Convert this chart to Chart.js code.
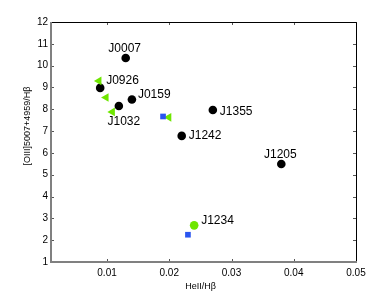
<!DOCTYPE html>
<html>
<head>
<meta charset="utf-8">
<script src="https://cdn.jsdelivr.net/npm/chart.js@4.4.1/dist/chart.umd.min.js"></script>
<style>
html,body{margin:0;padding:0;background:#fff;}
#wrap{width:392px;height:296px;position:relative;}
</style>
</head>
<body>
<div id="wrap"><canvas id="c" width="392" height="296"></canvas></div>
<script>
// ---- data ----
const blackNames = ['J0007','J0926','J1032','J0159','J1242','J1355','J1205'];
const blackX = [0.013, 0.0089, 0.0119, 0.014, 0.022, 0.027, 0.038];
const blackY = [10.35, 8.98, 8.15, 8.45, 6.78, 7.97, 5.49];
const triX = [0.0087, 0.00985, 0.01086, 0.01993];
const triY = [9.30, 8.54, 7.88, 7.63];
const squareX = [0.019, 0.023];
const squareY = [7.67, 2.25];
const greenNames = ['J1234'];
const greenX = [0.024];
const greenY = [2.68];
const xTicks = [0.01, 0.02, 0.03, 0.04, 0.05];
const yTicks = [1,2,3,4,5,6,7,8,9,10,11,12];
const xTitle = 'HeII/H\u03b2';
const yTitle = '[OIII]5007+4959/H\u03b2';

// ---- label placement (style) ----
const labelPlace = {
  J0007: {align:'center', dx:-1, dy:-9},
  J0926: {align:'left', dx:6, dy:-7},
  J1032: {align:'center', dx:5, dy:16},
  J0159: {align:'left', dx:6, dy:-5},
  J1242: {align:'left', dx:7, dy:0},
  J1355: {align:'left', dx:7, dy:2},
  J1205: {align:'center', dx:-1, dy:-9},
  J1234: {align:'left', dx:7, dy:-5}
};

const FONT = '"Liberation Sans", Arial, Helvetica, sans-serif';
const toPts = (xs, ys) => xs.map((x, i) => ({x: x, y: ys[i]}));

const framePlugin = {
  id: 'frame',
  afterDatasetsDraw(chart) {
    const ctx = chart.ctx, a = chart.chartArea;
    const xs = chart.scales.x, ys = chart.scales.y;
    ctx.save();
    // inward ticks
    ctx.strokeStyle = '#555';
    ctx.lineWidth = 1;
    const tl = 3;
    xTicks.forEach(v => {
      const px = Math.round(xs.getPixelForValue(v)) + 0.5;
      ctx.beginPath();
      ctx.moveTo(px, a.bottom); ctx.lineTo(px, a.bottom - tl);
      ctx.moveTo(px, a.top); ctx.lineTo(px, a.top + tl);
      ctx.stroke();
    });
    yTicks.forEach(v => {
      const py = Math.round(ys.getPixelForValue(v)) + 0.5;
      ctx.beginPath();
      ctx.moveTo(a.left, py); ctx.lineTo(a.left + tl, py);
      ctx.moveTo(a.right, py); ctx.lineTo(a.right - tl, py);
      ctx.stroke();
    });
    // top & right black
    ctx.strokeStyle = '#000';
    ctx.lineWidth = 1;
    ctx.beginPath();
    ctx.moveTo(a.left, a.top + 0.5); ctx.lineTo(a.right + 0.5, a.top + 0.5);
    ctx.lineTo(a.right + 0.5, a.bottom);
    ctx.stroke();
    // left & bottom grey
    ctx.strokeStyle = '#808080';
    ctx.lineWidth = 2;
    ctx.beginPath();
    ctx.moveTo(a.left, a.top); ctx.lineTo(a.left, a.bottom);
    ctx.lineTo(a.right + 1, a.bottom);
    ctx.stroke();

    // point labels
    ctx.fillStyle = '#000';
    ctx.font = '12px ' + FONT;
    ctx.textBaseline = 'middle';
    const drawLabels = (names, X, Y) => {
      names.forEach((n, i) => {
        const p = labelPlace[n];
        ctx.textAlign = p.align;
        ctx.fillText(n, xs.getPixelForValue(X[i]) + p.dx, ys.getPixelForValue(Y[i]) + p.dy);
      });
    };
    drawLabels(blackNames, blackX, blackY);
    drawLabels(greenNames, greenX, greenY);

    // axis titles
    ctx.font = '9px ' + FONT;
    ctx.textAlign = 'center';
    ctx.fillText(xTitle, (a.left + a.right) / 2 - 3, a.bottom + 25);
    ctx.translate(a.left - 23, (a.top + a.bottom) / 2 - 16);
    ctx.rotate(-Math.PI / 2);
    ctx.fillText(yTitle, 0, 0);
    ctx.restore();
  }
};

new Chart(document.getElementById('c'), {
  type: 'scatter',
  data: {
    datasets: [
      {label: 'squares', data: toPts(squareX, squareY), pointStyle: 'rect', pointRadius: 4,
       backgroundColor: '#2a55f0', borderColor: '#2a55f0', borderWidth: 0},
      {label: 'triangles', data: toPts(triX, triY), pointStyle: 'triangle', pointRotation: -90, pointRadius: 5,
       backgroundColor: '#6ee600', borderColor: '#6ee600', borderWidth: 0},
      {label: 'black', data: toPts(blackX, blackY), pointStyle: 'circle', pointRadius: 4.3,
       backgroundColor: '#000', borderColor: '#000', borderWidth: 0},
      {label: 'green', data: toPts(greenX, greenY), pointStyle: 'circle', pointRadius: 4.3,
       backgroundColor: '#6ee600', borderColor: '#6ee600', borderWidth: 0}
    ]
  },
  options: {
    responsive: false,
    animation: false,
    devicePixelRatio: 1,
    layout: {padding: {left: 0, right: 36, top: 22, bottom: 0}},
    plugins: {legend: {display: false}, tooltip: {enabled: false}},
    scales: {
      x: {
        type: 'linear', min: 0.001, max: 0.05,
        afterBuildTicks: s => { s.ticks = xTicks.map(v => ({value: v})); },
        afterFit: s => { s.height = 34; },
        grid: {display: false, drawTicks: false},
        border: {display: false},
        ticks: {padding: 5, color: '#000', font: {family: FONT, size: 10},
                callback: v => String(v)}
      },
      y: {
        type: 'linear', min: 1, max: 12,
        afterBuildTicks: s => { s.ticks = yTicks.map(v => ({value: v})); },
        afterFit: s => { s.width = 51; },
        grid: {display: false, drawTicks: false},
        border: {display: false},
        ticks: {padding: 3, color: '#000', font: {family: FONT, size: 10},
                callback: v => String(v)}
      }
    }
  },
  plugins: [framePlugin]
});
</script>
</body>
</html>
